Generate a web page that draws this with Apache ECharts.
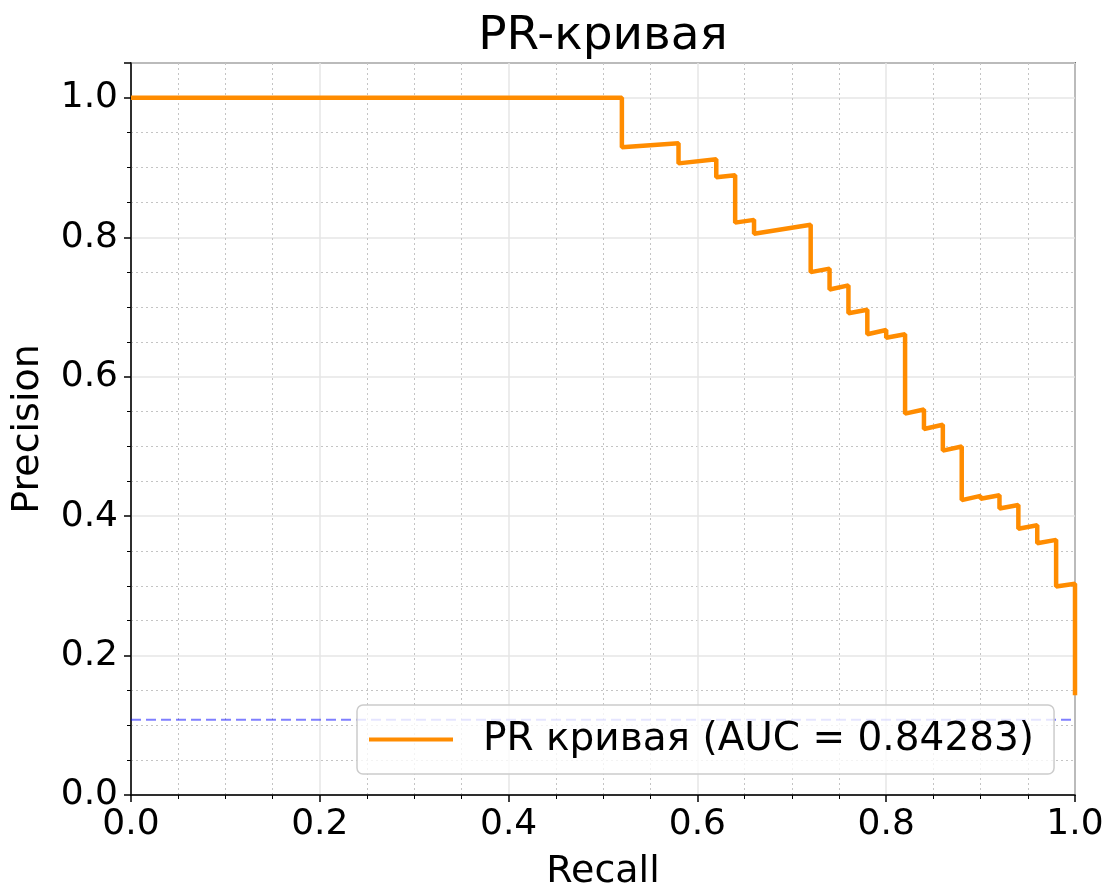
<!DOCTYPE html>
<html>
<head>
<meta charset="utf-8">
<script src="https://cdn.jsdelivr.net/npm/echarts@6/dist/echarts.min.js"></script>
<style>
  html, body { margin: 0; padding: 0; background: #fff; }
  #chart { width: 1104px; height: 884px; }
</style>
</head>
<body>
<div id="chart"></div>
<script>
// PR curve points
const recall = [0.0, 0.52, 0.52, 0.58, 0.58, 0.62, 0.62, 0.64, 0.64, 0.66, 0.66, 0.72, 0.72, 0.74, 0.74,
  0.76, 0.76, 0.78, 0.78, 0.80, 0.80, 0.82, 0.82, 0.84, 0.84, 0.86, 0.86, 0.88, 0.88, 0.90, 0.90,
  0.92, 0.92, 0.94, 0.94, 0.96, 0.96, 0.98, 0.98, 1.00, 1.00]
const precision = [1.0, 1.0, 0.929, 0.935, 0.906, 0.912, 0.886, 0.889, 0.821, 0.825, 0.805, 0.818, 0.750, 0.755, 0.725,
  0.731, 0.691, 0.696, 0.661, 0.667, 0.656, 0.661, 0.547, 0.553, 0.525, 0.531, 0.494, 0.500, 0.423, 0.429, 0.425,
  0.430, 0.411, 0.416, 0.382, 0.387, 0.361, 0.366, 0.299, 0.303, 0.143]
const baselineX = [0.0, 1.0]
const baselineY = [0.108, 0.108]

const titleText = 'PR-кривая'
const seriesName = 'PR кривая (AUC = 0.84283)'

const font = 'DejaVu Sans'
const chart = echarts.init(document.getElementById('chart'), null, { renderer: 'canvas' })

const axisCommon = {
  type: 'value',
  min: 0,
  interval: 0.2,
  nameLocation: 'middle',
  nameTextStyle: { fontFamily: font, fontSize: 38, color: '#000' },
  axisLine: { show: true, onZero: false, lineStyle: { color: '#000', width: 1.5 } },
  axisTick: { show: true, length: 7, lineStyle: { color: '#000', width: 1.5 } },
  minorTick: { show: true, splitNumber: 4, length: 4, lineStyle: { color: '#000', width: 1 } },
  axisLabel: { fontFamily: font, fontSize: 36, color: '#000', margin: 12,
    formatter: v => v.toFixed(1), showMaxLabel: true },
  splitLine: { show: true, lineStyle: { color: '#e6e6e6', width: 1.5 } },
  minorSplitLine: { show: true, lineStyle: { color: '#c4c4c4', width: 1, type: [2, 3] } }
}

chart.setOption({
  animation: false,
  backgroundColor: '#fff',
  title: {
    text: titleText,
    left: 603,
    textAlign: 'center',
    top: 13,
    padding: 0,
    textStyle: { fontFamily: font, fontSize: 47, fontWeight: 'normal', color: '#000' }
  },
  grid: {
    left: 131, right: 29, top: 63, bottom: 89,
    containLabel: false,
    outerBoundsMode: 'none',
    show: true, borderColor: '#000', borderWidth: 1.5, backgroundColor: 'transparent'
  },
  xAxis: Object.assign({}, axisCommon, {
    max: 1.0,
    name: 'Recall',
    nameGap: 58
  }),
  yAxis: Object.assign({}, axisCommon, {
    max: 1.05,
    name: 'Precision',
    nameGap: 84,
    axisLabel: Object.assign({}, axisCommon.axisLabel, { showMaxLabel: false, margin: 13 })
  }),
  legend: {
    data: [seriesName],
    left: 357,
    top: 705,
    padding: [15, 20, 15, 12],
    backgroundColor: 'rgba(255,255,255,0.8)',
    borderColor: '#cccccc',
    borderWidth: 1.5,
    borderRadius: 6,
    icon: 'rect',
    itemWidth: 84,
    itemHeight: 4,
    textStyle: { fontFamily: font, fontSize: 39, color: '#000', padding: [0, 0, 0, 25] }
  },
  series: [
    {
      name: 'baseline',
      type: 'line',
      data: baselineX.map((x, i) => [x, baselineY[i]]),
      symbol: 'none',
      silent: true,
      lineStyle: { color: 'rgba(0,0,255,0.5)', width: 2, type: [10, 5] },
      z: 1
    },
    {
      name: seriesName,
      type: 'line',
      data: recall.map((r, i) => [r, precision[i]]),
      symbol: 'none',
      color: '#ff8c00',
      lineStyle: { color: '#ff8c00', width: 4.5 },
      z: 3
    }
  ]
})
</script>
</body>
</html>
